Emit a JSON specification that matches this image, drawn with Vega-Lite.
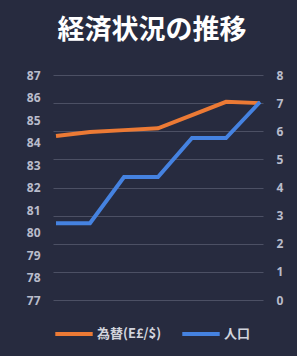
{
  "$schema": "https://vega.github.io/schema/vega-lite/v6.json",
  "autosize": {"type": "none"},
  "padding": {"left": 53, "top": 75, "right": 34, "bottom": 56},
  "width": 210,
  "height": 225,
  "background": "#272b3f",
  "title": {
    "text": "経済状況の推移",
    "font": "Noto Sans CJK JP",
    "fontSize": 27,
    "fontWeight": "bold",
    "color": "#ffffff",
    "anchor": "middle",
    "dx": -6,
    "offset": 24
  },
  "data": {
    "values": [
      {"t": 1, "fx": 84.29, "pop": 2.73},
      {"t": 2, "fx": 84.47, "pop": 2.73},
      {"t": 3, "fx": 84.55, "pop": 4.37},
      {"t": 4, "fx": 84.63, "pop": 4.37},
      {"t": 5, "fx": 85.22, "pop": 5.76},
      {"t": 6, "fx": 85.81, "pop": 5.76},
      {"t": 7, "fx": 85.75, "pop": 7.04}
    ]
  },
  "config": {
    "view": {"stroke": null},
    "axis": {
      "labelFont": "Noto Sans",
      "labelFontSize": 12,
      "labelFontWeight": "bold",
      "labelColor": "#b9bccb",
      "domain": false,
      "ticks": false,
      "title": null
    }
  },
  "encoding": {
    "x": {"field": "t", "type": "quantitative", "axis": null,
          "scale": {"domain": [1, 7], "nice": false, "zero": false, "padding": 3}}
  },
  "layer": [
    {
      "mark": {"type": "line", "strokeWidth": 4, "strokeJoin": "miter", "strokeCap": "butt"},
      "encoding": {
        "y": {"field": "fx", "type": "quantitative",
              "scale": {"domain": [77, 87], "nice": false, "zero": false},
              "axis": {"orient": "left", "values": [77,78,79,80,81,82,83,84,85,86,87], "grid": false, "labelPadding": 13}},
        "color": {"datum": "為替(E£/$)", "type": "nominal",
                  "scale": {"domain": ["為替(E£/$)", "人口"], "range": ["#ec7a35", "#4582e0"]},
                  "legend": {"title": null, "orient": "bottom", "direction": "horizontal",
                             "symbolType": "stroke", "symbolSize": 1400, "symbolStrokeWidth": 4,
                             "labelFont": "Noto Sans CJK JP", "labelFontSize": 13, "labelFontWeight": "bold",
                             "labelColor": "#d2d4dc", "columnPadding": 12, "labelOffset": 2, "offset": 13}}
      }
    },
    {
      "mark": {"type": "line", "strokeWidth": 4, "strokeJoin": "miter", "strokeCap": "butt"},
      "encoding": {
        "y": {"field": "pop", "type": "quantitative",
              "scale": {"domain": [0, 8], "nice": false, "zero": true},
              "axis": {"orient": "right", "values": [0,1,2,3,4,5,6,7,8], "grid": true,
                       "gridColor": "#4c5064", "gridWidth": 1, "labelPadding": 13}},
        "color": {"datum": "人口", "type": "nominal"}
      }
    }
  ],
  "resolve": {"scale": {"y": "independent"}}
}
